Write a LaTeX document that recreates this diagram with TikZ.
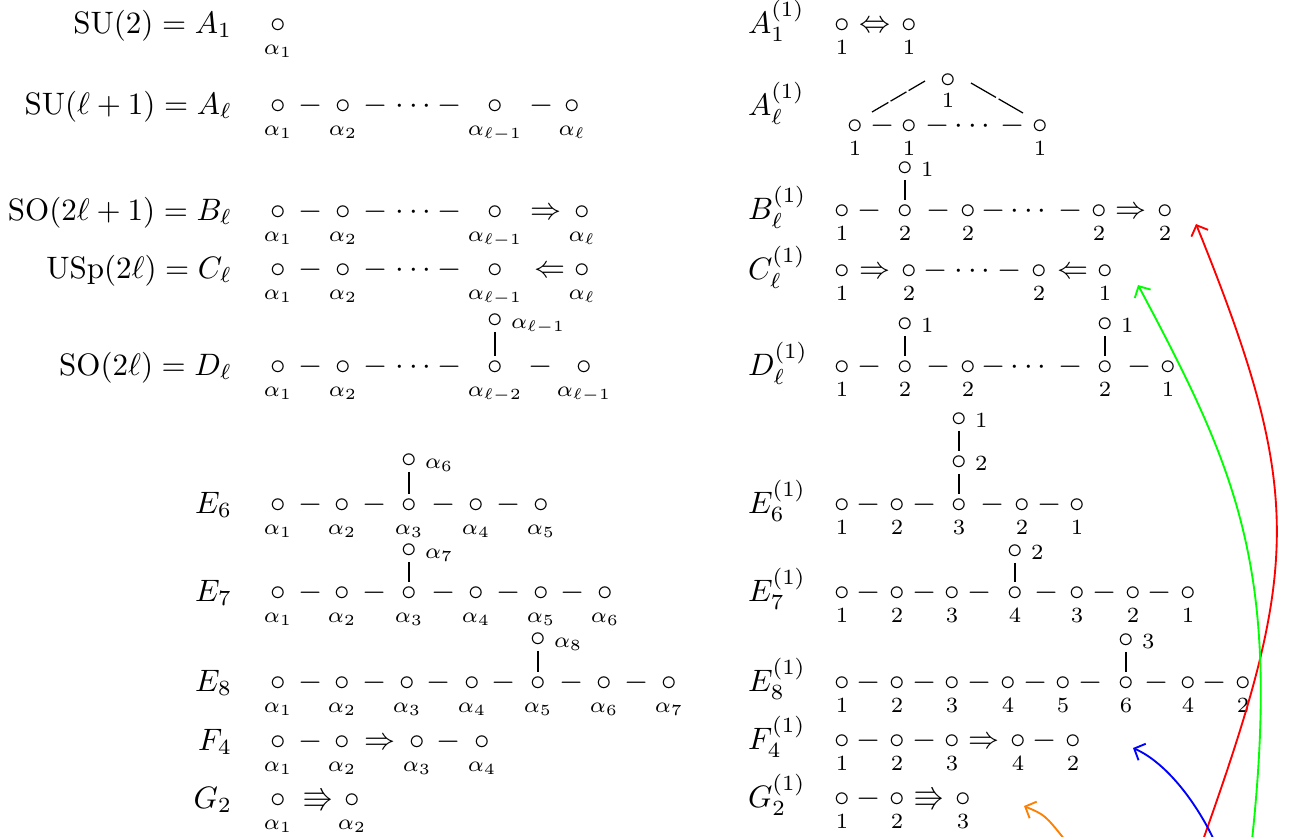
\documentclass[tikz,border=0pt]{standalone}
\usepackage{amsmath,amssymb}
\usetikzlibrary{arrows.meta,calc}
\tikzset{
 gl/.style={inner sep=0pt,outer sep=0pt,anchor=base},
 hdrL/.style={inner sep=0pt,outer sep=0pt,anchor=base east},
 hdrR/.style={inner sep=0pt,outer sep=0pt,anchor=base west},
 slab/.style={inner sep=0pt,outer sep=0pt,anchor=base west},
 vbar/.style={line width=0.4pt,shorten <=1.3pt,shorten >=1.5pt},
 diag/.style={line width=0.4pt},
 curv/.style={line width=0.6pt,-{Straight Barb[length=2.8pt,width=5.8pt]}},
}
\newcommand\Ci[3]{\node[gl] (#1) at (#2,{#3+7.75}) {$\circ$};}
\newcommand\Gl[4]{\node[gl] (#1) at (#2,{#3+7.75}) {$#4$};}
\newcommand\Lb[4]{\node[gl] (#1) at (#2,{#3+29.5}) {$\scriptstyle #4$};}
\newcommand\Sd[4]{\node[slab] (#1) at ({#2+16},{#3+8.5}) {$\scriptstyle #4$};}
\begin{document}
\begin{tikzpicture}[x=0.3226pt,y=-0.3226pt]
\useasboundingbox (0,0) rectangle (1295,836);
% ---------------- left column ----------------
\node[hdrL] (hA1) at (232,33) {$\mathrm{SU}(2)=A_1$};
\Ci{aoc}{278}{25}\Lb{aol}{278}{25}{\alpha_1}
% A_l
\node[hdrL] (hAl) at (232,114) {$\mathrm{SU}(\ell+1)=A_\ell$};
\foreach \x/\t [count=\i] in {278/\alpha_1,343/\alpha_2,495/\alpha_{\ell-1},572/\alpha_\ell}{\Ci{alc\i}{\x}{106}\Lb{all\i}{\x}{106}{\t}}
\foreach \x [count=\i] in {311,376,450,542}{\Gl{ald\i}{\x}{106}{-}}
\Gl{aldots}{416}{106}{\cdots}
% B_l
\node[hdrL] (hBl) at (232,220) {$\mathrm{SO}(2\ell+1)=B_\ell$};
\foreach \x/\t [count=\i] in {278/\alpha_1,343/\alpha_2,495/\alpha_{\ell-1},582/\alpha_\ell}{\Ci{blc\i}{\x}{212}\Lb{bll\i}{\x}{212}{\t}}
\foreach \x [count=\i] in {311,376,450}{\Gl{bld\i}{\x}{212}{-}}
\Gl{bldots}{416}{212}{\cdots}
\Gl{blarr}{546}{212}{\Rightarrow}
% C_l
\node[hdrL] (hCl) at (232,278) {$\mathrm{USp}(2\ell)=C_\ell$};
\foreach \x/\t [count=\i] in {278/\alpha_1,343/\alpha_2,495/\alpha_{\ell-1},582/\alpha_\ell}{\Ci{clc\i}{\x}{270}\Lb{cll\i}{\x}{270}{\t}}
\foreach \x [count=\i] in {311,376,450}{\Gl{cld\i}{\x}{270}{-}}
\Gl{cldots}{416}{270}{\cdots}
\Gl{clarr}{550}{270}{\Leftarrow}
% D_l
\node[hdrL] (hDl) at (232,375) {$\mathrm{SO}(2\ell)=D_\ell$};
\foreach \x/\t [count=\i] in {278/\alpha_1,343/\alpha_2,495/\alpha_{\ell-2},584/\alpha_{\ell-1}}{\Ci{dlc\i}{\x}{367}\Lb{dll\i}{\x}{367}{\t}}
\foreach \x [count=\i] in {311,376,450,541}{\Gl{dld\i}{\x}{367}{-}}
\Gl{dldots}{416}{367}{\cdots}
\Ci{dlt}{495}{320}\Sd{dlts}{495}{320}{\alpha_{\ell-1}}
\draw[vbar] (dlt.south) -- (dlc3.north);
% E6
\node[hdrL] (hE6) at (232,513) {$E_6$};
\foreach \x/\t [count=\i] in {278/\alpha_1,342/\alpha_2,409/\alpha_3,476/\alpha_4,541/\alpha_5}{\Ci{esc\i}{\x}{505}\Lb{esl\i}{\x}{505}{\t}}
\foreach \x [count=\i] in {311,375,444,509}{\Gl{esd\i}{\x}{505}{-}}
\Ci{est}{409}{460}\Sd{ests}{409}{460}{\alpha_6}
\draw[vbar] (est.south) -- (esc3.north);
% E7
\node[hdrL] (hE7) at (232,601) {$E_7$};
\foreach \x/\t [count=\i] in {278/\alpha_1,342/\alpha_2,409/\alpha_3,476/\alpha_4,541/\alpha_5,605/\alpha_6}{\Ci{eac\i}{\x}{593}\Lb{eal\i}{\x}{593}{\t}}
\foreach \x [count=\i] in {311,375,444,509,573}{\Gl{ead\i}{\x}{593}{-}}
\Ci{eat}{409}{550}\Sd{eats}{409}{550}{\alpha_7}
\draw[vbar] (eat.south) -- (eac3.north);
% E8
\node[hdrL] (hE8) at (232,691) {$E_8$};
\foreach \x/\t [count=\i] in {278/\alpha_1,342/\alpha_2,407/\alpha_3,472/\alpha_4,538/\alpha_5,604/\alpha_6,669/\alpha_7}{\Ci{ebc\i}{\x}{683}\Lb{ebl\i}{\x}{683}{\t}}
\foreach \x [count=\i] in {311,375,439,504,572,637}{\Gl{ebd\i}{\x}{683}{-}}
\Ci{ebt}{538}{639}\Sd{ebts}{538}{639}{\alpha_8}
\draw[vbar] (ebt.south) -- (ebc5.north);
% F4
\node[hdrL] (hF4) at (232,750) {$F_4$};
\foreach \x/\t [count=\i] in {278/\alpha_1,342/\alpha_2,417/\alpha_3,482/\alpha_4}{\Ci{ffc\i}{\x}{742}\Lb{ffl\i}{\x}{742}{\t}}
\Gl{ffd1}{311}{742}{-}\Gl{ffarr}{380}{742}{\Rightarrow}\Gl{ffd2}{449}{742}{-}
% G2
\node[hdrL] (hG2) at (232,808) {$G_2$};
\foreach \x/\t [count=\i] in {278/\alpha_1,352/\alpha_2}{\Ci{ggc\i}{\x}{800}\Lb{ggl\i}{\x}{800}{\t}}
\Gl{ggarr}{318}{800}{\Rrightarrow}
% ---------------- right column ----------------
% A1^(1)
\node[hdrR] (rA1) at (748,33) {$A_1^{(1)}$};
\foreach \x [count=\i] in {842,909}{\Ci{raoc\i}{\x}{25}\Lb{raol\i}{\x}{25}{1}}
\Gl{raoarr}{875}{25}{\Leftrightarrow}
% Al^(1)
\node[hdrR] (rAl) at (748,115) {$A_\ell^{(1)}$};
\Ci{ralt}{948}{80}\Lb{ralts}{948}{78}{1}
\foreach \x [count=\i] in {855,909,1040}{\Ci{ralc\i}{\x}{126}\Lb{rall\i}{\x}{126}{1}}
\foreach \x [count=\i] in {883,938,1013}{\Gl{rald\i}{\x}{126}{-}}
\Gl{raldots}{975}{126}{\cdots}
\coordinate (dA) at (872,112); \coordinate (dB) at (925,81);
\draw[diag] (dA) -- ($(dA)!0.31!(dB)$) ($(dA)!0.35!(dB)$) -- ($(dA)!0.65!(dB)$) ($(dA)!0.69!(dB)$) -- (dB);
\coordinate (dC) at (971,83); \coordinate (dD) at (1023,113);
\draw[diag] (dC) -- ($(dC)!0.48!(dD)$) ($(dC)!0.53!(dD)$) -- (dD);
% B^(1)
\node[hdrR] (rBl) at (748,219) {$B_\ell^{(1)}$};
\foreach \x/\t [count=\i] in {842/1,905/2,968/2,1099/2,1165/2}{\Ci{rbc\i}{\x}{211}\Lb{rbl\i}{\x}{211}{\t}}
\foreach \x [count=\i] in {870,939,994,1071}{\Gl{rbd\i}{\x}{211}{-}}
\Gl{rbdots}{1031}{211}{\cdots}
\Gl{rbarr}{1131}{211}{\Rightarrow}
\Ci{rbt}{905}{168}\Sd{rbts}{905}{168}{1}
\draw[vbar] (rbt.south) -- (rbc2.north);
% C^(1)
\node[hdrR] (rCl) at (748,279) {$C_\ell^{(1)}$};
\foreach \x/\t [count=\i] in {842/1,909/2,1039/2,1105/1}{\Ci{rcc\i}{\x}{271}\Lb{rcl\i}{\x}{271}{\t}}
\Gl{rcarra}{875}{271}{\Rightarrow}
\Gl{rcd1}{936}{271}{-}\Gl{rcdots}{975}{271}{\cdots}\Gl{rcd2}{1010}{271}{-}
\Gl{rcarrb}{1073}{271}{\Leftarrow}
% D^(1)
\node[hdrR] (rDl) at (748,375) {$D_\ell^{(1)}$};
\foreach \x/\t [count=\i] in {842/1,905/2,968/2,1105/2,1168/1}{\Ci{rdc\i}{\x}{367}\Lb{rdl\i}{\x}{367}{\t}}
\foreach \x [count=\i] in {870,939,994,1071,1140}{\Gl{rdd\i}{\x}{367}{-}}
\Gl{rddots}{1031}{367}{\cdots}
\Ci{rdta}{905}{324}\Sd{rdtas}{905}{324}{1}
\Ci{rdtb}{1105}{324}\Sd{rdtbs}{1105}{324}{1}
\draw[vbar] (rdta.south) -- (rdc2.north);
\draw[vbar] (rdtb.south) -- (rdc4.north);
% E6^(1)
\node[hdrR] (rE6) at (748,513) {$E_6^{(1)}$};
\foreach \x/\t [count=\i] in {842/1,897/2,959/3,1022/2,1077/1}{\Ci{rsc\i}{\x}{505}\Lb{rsl\i}{\x}{505}{\t}}
\foreach \x [count=\i] in {869,925,993,1050}{\Gl{rsd\i}{\x}{505}{-}}
\Ci{rsta}{959}{462}\Sd{rstas}{959}{462}{2}
\Ci{rstb}{959}{419}\Sd{rstbs}{959}{419}{1}
\draw[vbar] (rstb.south) -- (rsta.north);
\draw[vbar] (rsta.south) -- (rsc3.north);
% E7^(1)
\node[hdrR] (rE7) at (748,601) {$E_7^{(1)}$};
\foreach \x/\t [count=\i] in {842/1,897/2,952/3,1015/4,1077/3,1133/2,1188/1}{\Ci{rac\i}{\x}{593}\Lb{ral\i}{\x}{593}{\t}}
\foreach \x [count=\i] in {869,925,980,1047,1105,1160}{\Gl{rad\i}{\x}{593}{-}}
\Ci{rat}{1015}{551}\Sd{rats}{1015}{551}{2}
\draw[vbar] (rat.south) -- (rac4.north);
% E8^(1)
\node[hdrR] (rE8) at (748,691) {$E_8^{(1)}$};
\foreach \x/\t [count=\i] in {842/1,897/2,952/3,1008/4,1063/5,1126/6,1188/4,1243/2}{\Ci{rec\i}{\x}{683}\Lb{rel\i}{\x}{683}{\t}}
\foreach \x [count=\i] in {869,925,980,1036,1091,1157,1215}{\Gl{red\i}{\x}{683}{-}}
\Ci{ret}{1126}{640}\Sd{rets}{1126}{640}{3}
\draw[vbar] (ret.south) -- (rec6.north);
% F4^(1)
\node[hdrR] (rF4) at (748,749) {$F_4^{(1)}$};
\foreach \x/\t [count=\i] in {842/1,897/2,952/3,1018/4,1073/2}{\Ci{rfc\i}{\x}{741}\Lb{rfl\i}{\x}{741}{\t}}
\Gl{rfd1}{869}{741}{-}\Gl{rfd2}{925}{741}{-}\Gl{rfarr}{984}{741}{\Rightarrow}\Gl{rfd3}{1045}{741}{-}
% G2^(1)
\node[hdrR] (rG2) at (748,807) {$G_2^{(1)}$};
\foreach \x/\t [count=\i] in {842/1,897/2,963/3}{\Ci{rgc\i}{\x}{799}\Lb{rgl\i}{\x}{799}{\t}}
\Gl{rgd1}{869}{799}{-}\Gl{rgarr}{929}{799}{\Rrightarrow}
% ---------------- coloured arrows ----------------
\coordinate (rS) at (1203,840); \coordinate (rT) at (1196,224);
\draw[curv,red] (rS) .. controls (1300,567) and (1305,493) .. (rT);
\coordinate (gS) at (1252,840); \coordinate (gT) at (1138,285);
\draw[curv,green] (gS) .. controls (1281,568) and (1237,471) .. (gT);
\coordinate (bS) at (1214,840); \coordinate (bT) at (1133,748);
\draw[curv,blue] (bS) .. controls (1195,800) and (1165,762) .. (bT);
\coordinate (oS) at (1065,840); \coordinate (oT) at (1024,806);
\draw[curv,orange] (oS) .. controls (1045,815) .. (oT);
\end{tikzpicture}
\end{document}
